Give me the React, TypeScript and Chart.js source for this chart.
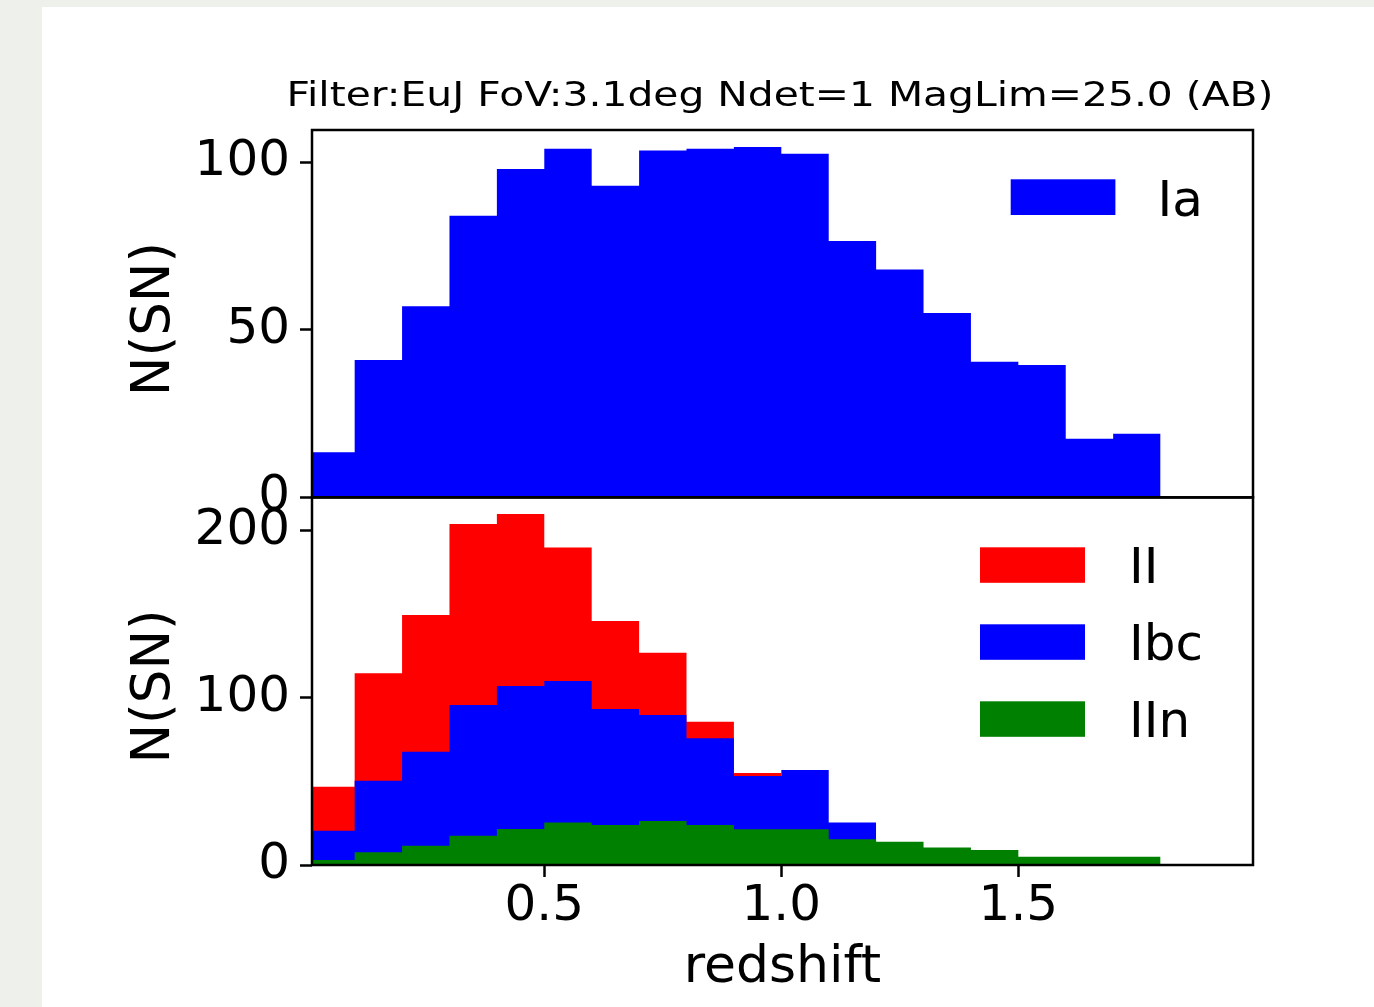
import React, { useEffect, useRef } from "react";
import { Chart, registerables } from "chart.js";

Chart.register(...registerables);

const FONT_FAMILY = "'DejaVu Sans', sans-serif";

// Redshift bin edges shared by both panels (bin width 0.1)
const BIN_EDGES = [0.0, 0.1, 0.2, 0.3, 0.4, 0.5, 0.6, 0.7, 0.8, 0.9, 1.0, 1.1, 1.2, 1.3, 1.4, 1.5, 1.6, 1.7, 1.8];

// Counts per bin, starting at the first edge
const COUNTS_IA = [13.5, 41, 57, 84, 98, 104, 93, 103.5, 104, 104.5, 102.5, 76.5, 68, 55, 40.5, 39.5, 17.5, 19];
const COUNTS_II = [46.8, 114.7, 149.6, 204, 210, 190, 146, 127, 85.7, 55];
const COUNTS_IBC = [20.5, 50.4, 67.8, 95.7, 107.1, 110.1, 93.3, 89.7, 75.8, 53.2, 56.8, 25.5];
const COUNTS_IIN = [3, 7.6, 11.5, 17.5, 21.5, 25.5, 23.9, 26.3, 23.9, 21.4, 21.4, 15.4, 13.9, 10.4, 9, 5, 5, 5];

const TITLE_TEXT = "Filter:EuJ FoV:3.1deg Ndet=1 MagLim=25.0 (AB)";
const Y_LABEL = "N(SN)\u2009";
const X_LABEL = "redshift";
const X_TICKS = [0.5, 1.0, 1.5];
const Y_TICKS_TOP = [0, 50, 100];
const Y_TICKS_BOTTOM = [0, 100, 200];
const X_MIN = 0.01;
const X_MAX = 1.995;
const Y_MAX_TOP = 109.6;
const Y_MAX_BOTTOM = 220;

// Filled step outline for one histogram: each bin value holds until the next edge
function histDataset(label: string, counts: number[], color: string, order: number) {
  const points = counts.map((c, i) => ({ x: BIN_EDGES[i], y: c }));
  points.push({ x: BIN_EDGES[counts.length], y: counts[counts.length - 1] });
  return {
    label,
    data: points,
    stepped: "before" as const,
    fill: "origin",
    backgroundColor: color,
    borderColor: "rgba(0,0,0,0)",
    borderWidth: 0,
    pointRadius: 0,
    pointHoverRadius: 0,
    order,
  };
}

// Black frame around the plotting area (all four spines)
const framePlugin = {
  id: "frame",
  afterDatasetsDraw(chart: any, _args: any, opts: any) {
    const { left, top, width, height } = chart.chartArea;
    const ctx = chart.ctx;
    ctx.save();
    ctx.strokeStyle = opts.color || "#000";
    ctx.lineWidth = opts.width || 2;
    ctx.strokeRect(left, top, width, height);
    ctx.restore();
  },
};

// Legend drawn inside the plot area, upper right
const boxLegendPlugin = {
  id: "boxLegend",
  afterDraw(chart: any, _args: any, opts: any) {
    if (!opts || !opts.show) return;
    const ctx = chart.ctx;
    const { right, top } = chart.chartArea;
    ctx.save();
    ctx.font = `${opts.size}px ${FONT_FAMILY}`;
    ctx.textAlign = "left";
    ctx.textBaseline = "alphabetic";
    chart.data.datasets.forEach((ds: any, i: number) => {
      const x0 = right - opts.offsetRight;
      const y0 = top + opts.offsetTop + i * opts.rowStep;
      ctx.fillStyle = ds.backgroundColor;
      ctx.fillRect(x0, y0, opts.boxWidth, opts.boxHeight);
      ctx.fillStyle = "#000";
      ctx.fillText(ds.label, x0 + opts.boxWidth + opts.gap, y0 + opts.boxHeight + 0.5);
    });
    ctx.restore();
  },
};

// Figure heading above the upper panel
const headingPlugin = {
  id: "heading",
  afterDraw(chart: any, _args: any, opts: any) {
    if (!opts || !opts.text) return;
    const ctx = chart.ctx;
    ctx.save();
    ctx.font = `${opts.size}px ${FONT_FAMILY}`;
    ctx.fillStyle = "#000";
    ctx.textAlign = "center";
    ctx.textBaseline = "alphabetic";
    ctx.translate(opts.x, opts.y);
    ctx.scale(opts.stretch, 1);
    ctx.fillText(opts.text, 0, 0);
    ctx.restore();
  },
};

const tickFont = { family: FONT_FAMILY, size: 50 };
const xTitleFont = { family: FONT_FAMILY, size: 52 };
const yTitleFont = { family: FONT_FAMILY, size: 53 };

const gridOpts = {
  drawOnChartArea: false,
  drawTicks: true,
  tickLength: 12,
  tickWidth: 2.5,
  tickColor: "#000",
};

function yAxis(max: number, ticks: number[]) {
  return {
    type: "linear" as const,
    min: 0,
    max,
    bounds: "data" as const,
    afterBuildTicks: (scale: any) => {
      scale.ticks = ticks.map((v) => ({ value: v }));
    },
    afterFit: (scale: any) => {
      scale.width = 312;
    },
    ticks: { color: "#000", font: tickFont, padding: 10 },
    grid: gridOpts,
    border: { display: false },
    title: {
      display: true,
      text: Y_LABEL,
      color: "#000",
      font: yTitleFont,
      padding: { top: 123.7, bottom: 0 },
    },
  };
}

export default function App() {
  const topRef = useRef<HTMLCanvasElement | null>(null);
  const bottomRef = useRef<HTMLCanvasElement | null>(null);

  useEffect(() => {
    Chart.defaults.font.family = FONT_FAMILY;

    const topChart = new Chart(topRef.current as HTMLCanvasElement, {
      type: "line",
      data: {
        datasets: [histDataset("Ia", COUNTS_IA, "#0000ff", 1) as any],
      },
      options: {
        animation: false,
        responsive: false,
        devicePixelRatio: 1,
        events: [],
        layout: { padding: { left: 0, right: 121, top: 130, bottom: 62.5 } },
        scales: {
          x: { type: "linear", min: X_MIN, max: X_MAX, display: false },
          y: yAxis(Y_MAX_TOP, Y_TICKS_TOP) as any,
        },
        plugins: {
          legend: { display: false },
          tooltip: { enabled: false },
          frame: { color: "#000", width: 2.5 },
          heading: { text: TITLE_TEXT, size: 34, x: 780, y: 105.5, stretch: 1.2 },
          boxLegend: {
            show: true,
            size: 50,
            offsetRight: 242.3,
            offsetTop: 49.3,
            rowStep: 77,
            boxWidth: 104.7,
            boxHeight: 35.7,
            gap: 42,
          },
        } as any,
      },
      plugins: [framePlugin, boxLegendPlugin, headingPlugin],
    });

    const bottomChart = new Chart(bottomRef.current as HTMLCanvasElement, {
      type: "line",
      data: {
        datasets: [
          histDataset("II", COUNTS_II, "#ff0000", 3) as any,
          histDataset("Ibc", COUNTS_IBC, "#0000ff", 2) as any,
          histDataset("IIn", COUNTS_IIN, "#008000", 1) as any,
        ],
      },
      options: {
        animation: false,
        responsive: false,
        devicePixelRatio: 1,
        events: [],
        layout: { padding: { left: 0, right: 121, top: 57.3, bottom: 0 } },
        scales: {
          x: {
            type: "linear",
            min: X_MIN,
            max: X_MAX,
            bounds: "data",
            afterBuildTicks: (scale: any) => {
              scale.ticks = X_TICKS.map((v) => ({ value: v }));
            },
            afterFit: (scale: any) => {
              scale.height = 142;
            },
            ticks: {
              color: "#000",
              font: tickFont,
              padding: 0,
              maxRotation: 0,
              autoSkip: false,
              callback: (v: any) => Number(v).toFixed(1),
            },
            grid: gridOpts,
            border: { display: false },
            title: {
              display: true,
              text: X_LABEL,
              color: "#000",
              font: xTitleFont,
              padding: { top: 0, bottom: 7 },
            },
          } as any,
          y: yAxis(Y_MAX_BOTTOM, Y_TICKS_BOTTOM) as any,
        },
        plugins: {
          legend: { display: false },
          tooltip: { enabled: false },
          frame: { color: "#000", width: 2.5 },
          heading: false,
          boxLegend: {
            show: true,
            size: 50,
            offsetRight: 273,
            offsetTop: 50,
            rowStep: 77,
            boxWidth: 105,
            boxHeight: 35.5,
            gap: 44,
          },
        } as any,
      },
      plugins: [framePlugin, boxLegendPlugin, headingPlugin],
    });

    return () => {
      topChart.destroy();
      bottomChart.destroy();
    };
  }, []);

  return (
    <div
      style={{
        position: "absolute",
        left: 0,
        top: 0,
        width: 1374,
        height: 1007,
        background: "#ffffff",
        overflow: "hidden",
      }}
    >
      <div style={{ position: "absolute", left: 0, top: 0, width: 42, height: 1007, background: "#eef0eb" }} />
      <div style={{ position: "absolute", left: 0, top: 0, width: 1374, height: 7, background: "#eef0eb" }} />
      <canvas
        ref={topRef}
        width={1374}
        height={560}
        style={{ position: "absolute", left: 0, top: 0, width: 1374, height: 560 }}
      />
      <canvas
        ref={bottomRef}
        width={1374}
        height={567}
        style={{ position: "absolute", left: 0, top: 440, width: 1374, height: 567 }}
      />
    </div>
  );
}
